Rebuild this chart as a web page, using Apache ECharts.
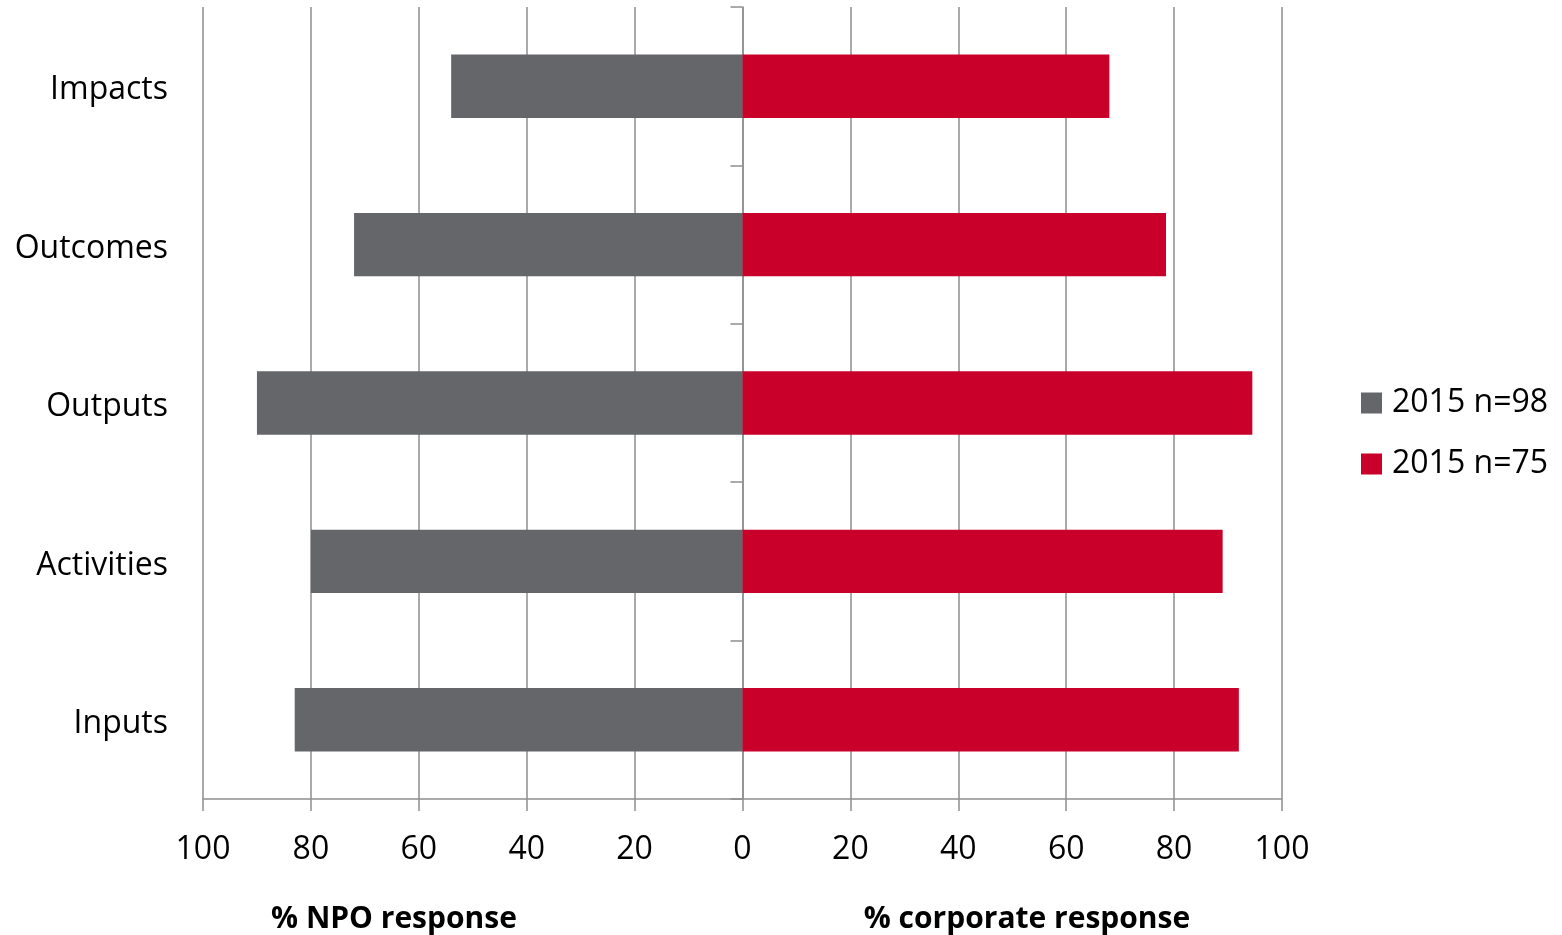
<!DOCTYPE html>
<html>
<head>
<meta charset="utf-8">
<script src="https://cdn.jsdelivr.net/npm/echarts@6/dist/echarts.min.js"></script>
<style>
html,body{margin:0;padding:0;background:#fff;}
#chart{width:1562px;height:935px;}
</style>
</head>
<body>
<div id="chart"></div>
<script>
const categories = ['Impacts', 'Outcomes', 'Outputs', 'Activities', 'Inputs'];
const npoValues = [54, 72, 90, 80, 83];          // % NPO response (drawn to the left)
const corporateValues = [68, 78.5, 94.5, 89, 92]; // % corporate response
const seriesNames = ['2015 n=98', '2015 n=75'];
const xTicks = { min: -100, max: 100, interval: 20 };
const axisTitles = ['% NPO response', '% corporate response'];

const FONT = "'Open Sans', 'Noto Sans', sans-serif";
const GRID_COLOR = '#8e8e8e';

const chart = echarts.init(document.getElementById('chart'), null, { renderer: 'canvas' });

chart.setOption({
  animation: false,
  backgroundColor: '#fff',
  textStyle: { fontFamily: FONT },
  grid: { left: 203, right: 280, top: 7, bottom: 136, containLabel: false },
  legend: {
    orient: 'vertical',
    left: 1356,
    top: 382,
    itemWidth: 21,
    itemHeight: 21,
    itemGap: 29,
    icon: 'rect',
    data: seriesNames,
    textStyle: { fontFamily: FONT, fontSize: 32, color: '#000', padding: [0, 0, 0, 5] }
  },
  xAxis: {
    type: 'value',
    min: xTicks.min,
    max: xTicks.max,
    interval: xTicks.interval,
    axisLine: { show: true, onZero: false, lineStyle: { color: GRID_COLOR, width: 1.5 } },
    axisTick: { show: true, length: 12, lineStyle: { color: GRID_COLOR, width: 1.5 } },
    axisLabel: {
      fontFamily: FONT, fontSize: 32, color: '#000', margin: 35,
      formatter: v => String(Math.abs(v))
    },
    splitLine: { show: true, lineStyle: { color: GRID_COLOR, width: 1.5 } }
  },
  yAxis: [
    {
      type: 'category',
      data: categories,
      inverse: true,
      axisLine: { show: false, onZero: false },
      axisTick: { show: false },
      axisLabel: {
        margin: 35,
        formatter: v => '{c|' + v + '}',
        rich: { c: { fontFamily: FONT, fontSize: 32, color: '#000', padding: [8, 0, 0, 0] } }
      },
      splitLine: { show: false }
    },
    {
      type: 'category',
      data: categories,
      inverse: true,
      position: 'left',
      axisLine: { show: true, onZero: true, lineStyle: { color: GRID_COLOR, width: 1.5 } },
      axisTick: { show: true, length: 12, lineStyle: { color: GRID_COLOR, width: 1.5 } },
      axisLabel: { show: false },
      splitLine: { show: false }
    }
  ],
  series: [
    {
      name: seriesNames[0],
      type: 'bar',
      stack: 'total',
      yAxisIndex: 0,
      barWidth: '40%',
      itemStyle: { color: '#65666a' },
      data: npoValues.map(v => -v)
    },
    {
      name: seriesNames[1],
      type: 'bar',
      stack: 'total',
      yAxisIndex: 0,
      barWidth: '40%',
      itemStyle: { color: '#c8002a' },
      data: corporateValues
    }
  ],
  graphic: [
    {
      type: 'text', x: 394, y: 919,
      style: { text: axisTitles[0], fontFamily: FONT, fontSize: 30, fontWeight: 'bold', fill: '#000', textAlign: 'center', textVerticalAlign: 'middle' }
    },
    {
      type: 'text', x: 1027, y: 919,
      style: { text: axisTitles[1], fontFamily: FONT, fontSize: 30, fontWeight: 'bold', fill: '#000', textAlign: 'center', textVerticalAlign: 'middle' }
    }
  ]
});
</script>
</body>
</html>
